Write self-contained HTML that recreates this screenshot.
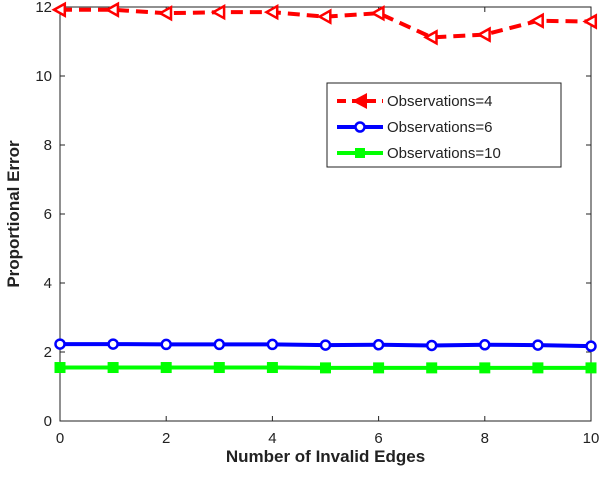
<!DOCTYPE html>
<html><head><meta charset="utf-8"><style>
body{margin:0;background:#fff;}
svg text{font-family:"Liberation Sans",sans-serif;}
</style></head><body>
<svg id="chart" width="600" height="472" xmlns="http://www.w3.org/2000/svg"></svg>
<script>
const xValues=[0,1,2,3,4,5,6,7,8,9,10];
const obs4=[11.92,11.92,11.82,11.85,11.85,11.72,11.82,11.12,11.2,11.6,11.58];
const obs6=[2.23,2.23,2.22,2.22,2.22,2.2,2.21,2.19,2.21,2.2,2.17];
const obs10=[1.55,1.55,1.55,1.55,1.55,1.54,1.54,1.54,1.54,1.54,1.54];
const xTicks=[0,2,4,6,8,10];
const yTicks=[0,2,4,6,8,10,12];
const legendLabels=["Observations=4","Observations=6","Observations=10"];

const NS="http://www.w3.org/2000/svg";
const svg=document.getElementById('chart');
const L=60,R=591,T=7,B=421;
const xs=v=>L+(v-0)/(10-0)*(R-L);
const ys=v=>B-(v-0)/(12-0)*(B-T);
function mk(tag,attrs,parent){const e=document.createElementNS(NS,tag);for(const k in attrs)e.setAttribute(k,attrs[k]);(parent||svg).appendChild(e);return e;}

const box=mk('rect',{x:L,y:T,width:R-L,height:B-T,fill:'#fff',stroke:'#222','stroke-width':1});



xTicks.forEach(t=>{
  const x=xs(t);
  mk('line',{x1:x,y1:B,x2:x,y2:B-5,stroke:'#222'});
  mk('line',{x1:x,y1:T,x2:x,y2:T+5,stroke:'#222'});
  const tx=mk('text',{x:x,y:B+22,'text-anchor':'middle','font-size':15,fill:'#222'});
  tx.textContent=t;
  
  
});
yTicks.forEach(t=>{
  const y=ys(t);
  mk('line',{x1:L,y1:y,x2:L+5,y2:y,stroke:'#222'});
  mk('line',{x1:R,y1:y,x2:R-5,y2:y,stroke:'#222'});
  const tx=mk('text',{x:L-8,y:y+5,'text-anchor':'end','font-size':15,fill:'#222'});
  tx.textContent=t;
  
  
});

function tri(cx,cy,s,g){return mk('polygon',{points:`${cx-s},${cy} ${cx+s*0.8},${cy-s} ${cx+s*0.8},${cy+s}`,fill:'#fff',stroke:'#f00','stroke-width':2.5},g);}
function series(vals,color,dash,marker,name){
  const g=mk('g',{});
  
  
  const pts=vals.map((v,i)=>xs(xValues[i])+','+ys(v)).join(' ');
  const a={points:pts,fill:'none',stroke:color,'stroke-width':4};
  if(dash)a['stroke-dasharray']=dash;
  mk('polyline',a,g);
  vals.forEach((v,i)=>{
    const cx=xs(xValues[i]),cy=ys(v);
    let m;
    if(marker==='tri')m=tri(cx,cy,6,g);
    else if(marker==='circ')m=mk('circle',{cx:cx,cy:cy,r:4.5,fill:'#fff',stroke:color,'stroke-width':2.5},g);
    else m=mk('rect',{x:cx-5,y:cy-5,width:10,height:10,fill:color,stroke:color,'stroke-width':1},g);
    
    
  });
}
series(obs10,'#0f0',null,'sq','series-obs10');
series(obs6,'#00f',null,'circ','series-obs6');
series(obs4,'#f00','12 7','tri','series-obs4');

const lg=mk('g',{});


mk('rect',{x:327,y:83,width:234,height:84,fill:'#fff',stroke:'#222'},lg);
const cols=['#f00','#00f','#0f0'];
legendLabels.forEach((lab,i)=>{
  const y=101+i*26;
  const e=mk('g',{},lg);
  
  
  const la={x1:337,y1:y,x2:383,y2:y,stroke:cols[i],'stroke-width':4};
  if(i===0)la['stroke-dasharray']='9 6';
  mk('line',la,e);
  if(i===0)mk('polygon',{points:`352,${y} 367,${y-8} 367,${y+8}`,fill:'#f00'},e);
  else if(i===1)mk('circle',{cx:360,cy:y,r:4.5,fill:'#fff',stroke:'#00f','stroke-width':2.5},e);
  else mk('rect',{x:355,y:y-5,width:10,height:10,fill:'#0f0'},e);
  const t=mk('text',{x:387,y:y+5,'font-size':15,fill:'#222'},e);
  t.textContent=lab;
});

const xl=mk('text',{x:(L+R)/2,y:462,'text-anchor':'middle','font-size':17,'font-weight':'bold',fill:'#222'});
xl.textContent='Number of Invalid Edges';


const yl=mk('text',{x:0,y:0,'text-anchor':'middle','font-size':17,'font-weight':'bold',fill:'#222',transform:`translate(19,${(T+B)/2}) rotate(-90)`});
yl.textContent='Proportional Error';


</script>
</body></html>
